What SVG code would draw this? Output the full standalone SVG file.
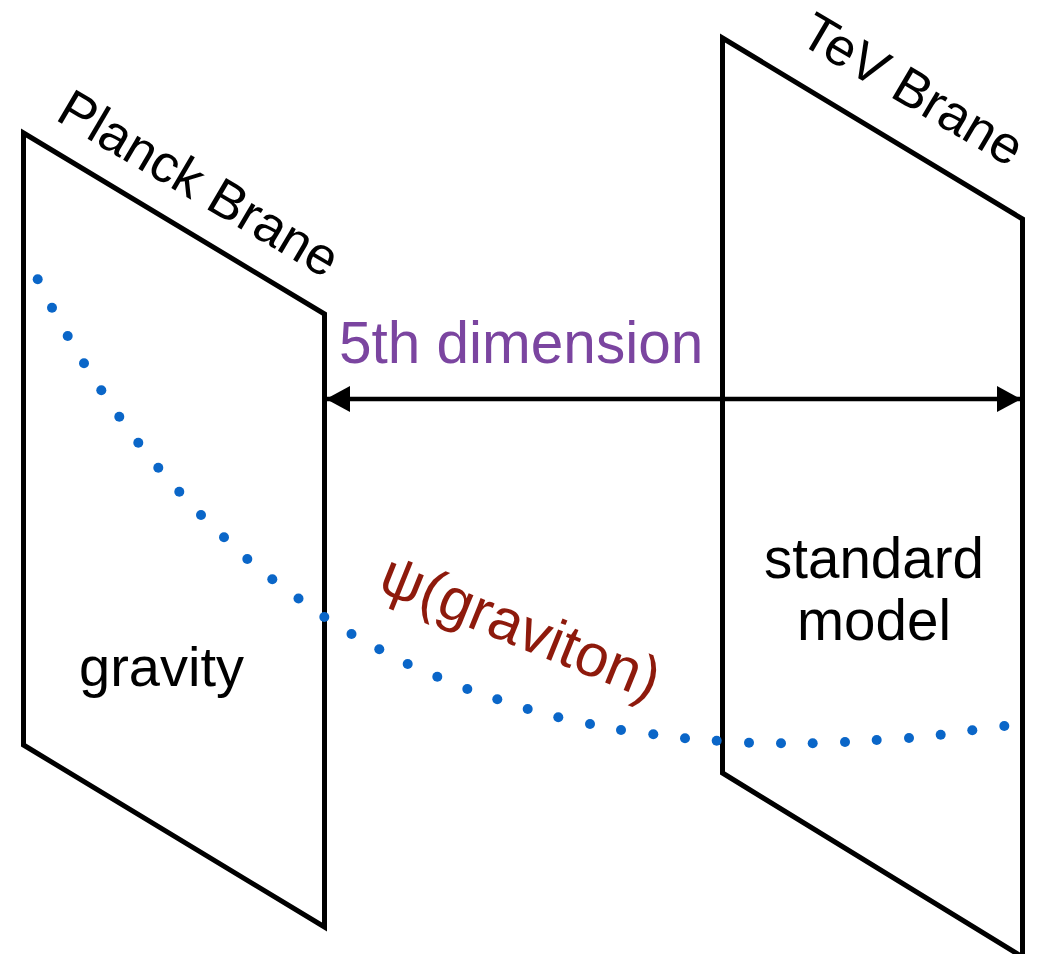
<svg xmlns="http://www.w3.org/2000/svg" width="1047" height="954" viewBox="0 0 1047 954">
  <defs>
    <style>
      .brane { fill: none; stroke: #000; stroke-width: 5; stroke-linejoin: miter; }
      .lbl { font-family: "Liberation Sans", Arial, sans-serif; fill: #000; }
      .dim { font-family: "Liberation Sans", Arial, sans-serif; fill: #7B45A0; }
      .psi { font-family: "Liberation Sans", "DejaVu Sans", sans-serif; fill: #8E1A0C; }
      .dot { fill: #0A66C8; }
      .arrow { stroke: #000; stroke-width: 4.5; fill: none; }
    </style>
    <marker id="ah" viewBox="0 0 24 26" refX="23" refY="13" markerWidth="24" markerHeight="26" markerUnits="userSpaceOnUse" orient="auto-start-reverse">
      <path d="M0,0 L24,13 L0,26 Z" fill="#000"/>
    </marker>
  </defs>
  <rect width="1047" height="954" fill="#fff"/>

  <g id="planck-brane">
    <polygon class="brane" points="23.5,133 324.5,314 324.5,927 23.5,745"/>
    <text class="lbl" font-size="53" transform="translate(54,119) rotate(30.5)">Planck Brane</text>
    <text class="lbl" font-size="56" x="79" y="686">gravity</text>
  </g>

  <g id="tev-brane">
    <polygon class="brane" points="722.5,38 1022.5,219 1022.5,957 722.5,773"/>
    <text class="lbl" font-size="53" transform="translate(797,42) rotate(30.5)">TeV Brane</text>
    <text class="lbl" font-size="56.5" text-anchor="middle" x="874" y="578">standard</text>
    <text class="lbl" font-size="56.5" text-anchor="middle" x="874" y="640">model</text>
  </g>

  <g id="connectors">
    <line class="arrow" x1="327" y1="399" x2="1020" y2="399" marker-start="url(#ah)" marker-end="url(#ah)"/>
    <text class="dim" font-size="58.5" x="339" y="363">5th dimension</text>
  </g>

  <g id="graviton">
    <g>
      <circle class="dot" r="5" cx="37.7" cy="279.3"/>
      <circle class="dot" r="5" cx="52" cy="307.7"/>
      <circle class="dot" r="5" cx="67.7" cy="336"/>
      <circle class="dot" r="5" cx="84" cy="363.3"/>
      <circle class="dot" r="5" cx="101.3" cy="390.3"/>
      <circle class="dot" r="5" cx="119.3" cy="416.7"/>
      <circle class="dot" r="5" cx="138.3" cy="442.7"/>
      <circle class="dot" r="5" cx="158.3" cy="467.7"/>
      <circle class="dot" r="5" cx="179.3" cy="491.7"/>
      <circle class="dot" r="5" cx="201" cy="515"/>
      <circle class="dot" r="5" cx="224" cy="537.3"/>
      <circle class="dot" r="5" cx="247.3" cy="559"/>
      <circle class="dot" r="5" cx="272.3" cy="579.3"/>
      <circle class="dot" r="5" cx="298.5" cy="598.5"/>
      <circle class="dot" r="5" cx="324.3" cy="617"/>
      <circle class="dot" r="5" cx="351.5" cy="634"/>
      <circle class="dot" r="5" cx="379.3" cy="649.2"/>
      <circle class="dot" r="5" cx="407.7" cy="664"/>
      <circle class="dot" r="5" cx="437.3" cy="676.7"/>
      <circle class="dot" r="5" cx="467.3" cy="689"/>
      <circle class="dot" r="5" cx="497.3" cy="699.3"/>
      <circle class="dot" r="5" cx="527.7" cy="709"/>
      <circle class="dot" r="5" cx="558.3" cy="717.3"/>
      <circle class="dot" r="5" cx="590" cy="724"/>
      <circle class="dot" r="5" cx="621" cy="730"/>
      <circle class="dot" r="5" cx="653.3" cy="734.3"/>
      <circle class="dot" r="5" cx="685" cy="738.3"/>
      <circle class="dot" r="5" cx="716.7" cy="740.7"/>
      <circle class="dot" r="5" cx="749" cy="742.7"/>
      <circle class="dot" r="5" cx="781" cy="743.3"/>
      <circle class="dot" r="5" cx="812.7" cy="743.3"/>
      <circle class="dot" r="5" cx="845" cy="742"/>
      <circle class="dot" r="5" cx="876.7" cy="740"/>
      <circle class="dot" r="5" cx="909" cy="738"/>
      <circle class="dot" r="5" cx="940.7" cy="734.7"/>
      <circle class="dot" r="5" cx="972.3" cy="730.3"/>
      <circle class="dot" r="5" cx="1004.3" cy="726"/>
    </g>
    <text class="psi" font-size="60" transform="translate(376,590) rotate(22)">ψ(graviton)</text>
  </g>
</svg>
